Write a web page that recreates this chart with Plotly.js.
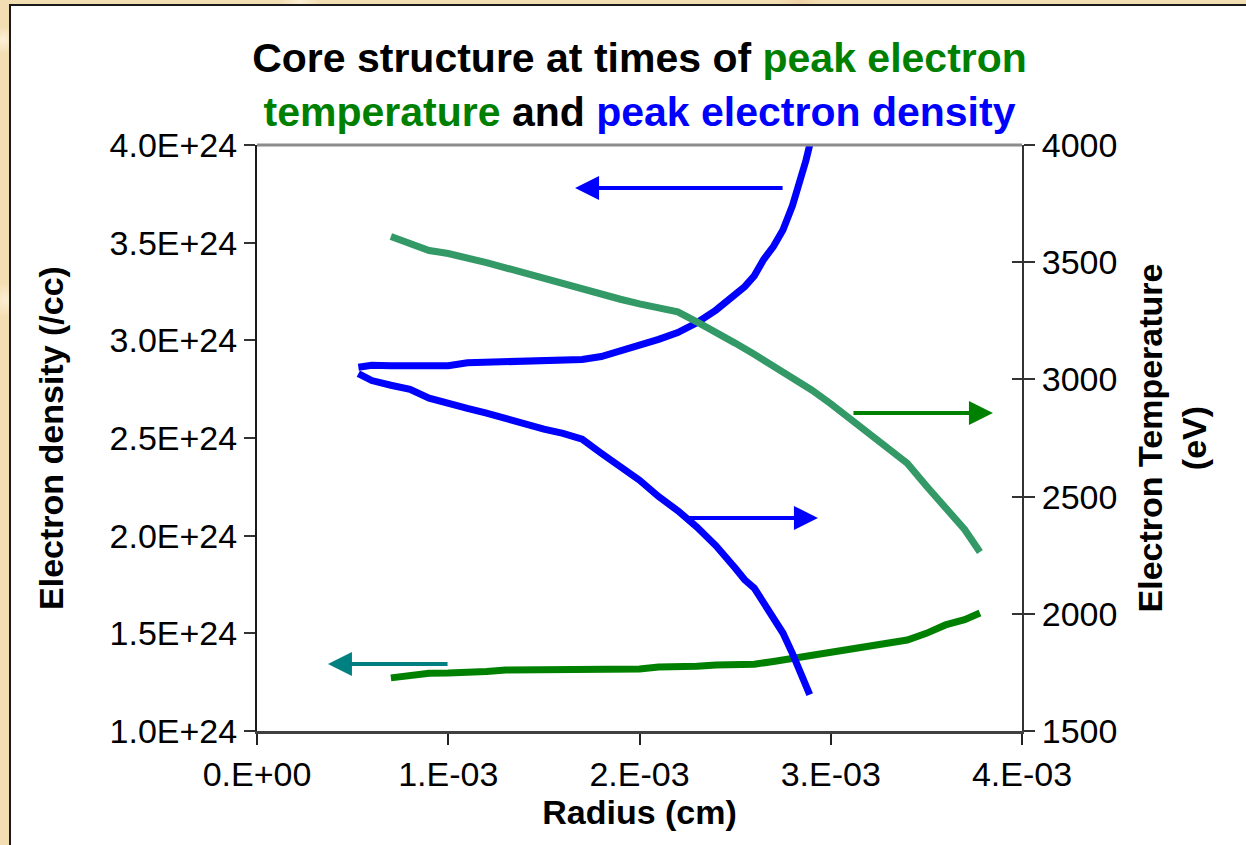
<!DOCTYPE html>
<html>
<head>
<meta charset="utf-8">
<script src="https://cdn.plot.ly/plotly-3.0.1.min.js"></script>
<style>
  html, body { margin: 0; padding: 0; }
  body {
    width: 1246px; height: 845px; overflow: hidden; position: relative;
    background-color: #F3DDB2;
    background-image:
      radial-gradient(circle at 3px 40px, rgba(255,246,225,0.8) 0, rgba(255,246,225,0) 14px),
      radial-gradient(circle at 6px 300px, rgba(255,246,225,0.7) 0, rgba(255,246,225,0) 18px),
      radial-gradient(circle at 300px 2px, rgba(255,246,225,0.7) 0, rgba(255,246,225,0) 20px),
      radial-gradient(circle at 800px 2px, rgba(235,205,160,0.7) 0, rgba(235,205,160,0) 20px);
  }
  #frame {
    position: absolute; left: 9px; top: 4px; width: 1237px; height: 841px;
    border-left: 2px solid #1a1a1a; border-top: 2px solid #1a1a1a;
    background: #ffffff;
  }
</style>
</head>
<body>
<div id="frame"><div id="chart"></div></div>
<script>
// Radius grid (cm) at the time of peak electron temperature
const radiusPeakTe = [0.70e-3, 0.80e-3, 0.90e-3, 1.00e-3, 1.10e-3, 1.20e-3, 1.30e-3, 1.40e-3,
  1.50e-3, 1.60e-3, 1.70e-3, 1.80e-3, 1.90e-3, 2.00e-3, 2.10e-3, 2.20e-3, 2.30e-3, 2.40e-3,
  2.50e-3, 2.60e-3, 2.70e-3, 2.80e-3, 2.90e-3, 3.00e-3, 3.10e-3, 3.20e-3, 3.30e-3, 3.40e-3,
  3.50e-3, 3.60e-3, 3.70e-3, 3.78e-3];
// Electron temperature (eV) at peak-temperature time
const tempPeakTe = [3610, 3580, 3550, 3537, 3520, 3498, 3476, 3453, 3428, 3404, 3382, 3362,
  3342, 3322, 3304, 3288, 3245, 3202, 3155, 3107, 3058, 3008, 2955, 2896, 2833, 2768, 2705,
  2642, 2545, 2450, 2360, 2264];
// Electron density (/cc) at peak-temperature time
const densPeakTe = [1.272e24, 1.285e24, 1.296e24, 1.297e24, 1.297e24, 1.305e24, 1.312e24,
  1.312e24, 1.312e24, 1.312e24, 1.312e24, 1.312e24, 1.312e24, 1.318e24, 1.328e24, 1.328e24,
  1.332e24, 1.338e24, 1.338e24, 1.342e24, 1.356e24, 1.372e24, 1.388e24, 1.402e24, 1.414e24,
  1.428e24, 1.446e24, 1.466e24, 1.500e24, 1.543e24, 1.570e24, 1.604e24];

// Radius grid (cm) at the time of peak electron density
const radiusPeakNe = [0.53e-3, 0.60e-3, 0.70e-3, 0.80e-3, 0.90e-3, 1.00e-3, 1.10e-3, 1.20e-3,
  1.30e-3, 1.40e-3, 1.50e-3, 1.60e-3, 1.70e-3, 1.80e-3, 1.90e-3, 2.00e-3, 2.10e-3, 2.20e-3,
  2.30e-3, 2.40e-3, 2.50e-3, 2.55e-3, 2.60e-3, 2.65e-3, 2.70e-3, 2.75e-3, 2.80e-3, 2.84e-3,
  2.87e-3, 2.89e-3];
// Electron density (/cc) at peak-density time
const densPeakNe = [2.862e24, 2.872e24, 2.870e24, 2.870e24, 2.870e24, 2.870e24, 2.885e24,
  2.888e24, 2.888e24, 2.888e24, 2.889e24, 2.893e24, 2.902e24, 2.917e24, 2.945e24, 2.975e24,
  3.005e24, 3.040e24, 3.090e24, 3.155e24, 3.230e24, 3.275e24, 3.330e24, 3.415e24, 3.480e24,
  3.565e24, 3.690e24, 3.810e24, 3.920e24, 4.000e24];
// Electron temperature (eV) at peak-density time
const tempPeakNe = [3025, 2995, 2975, 2958, 2920, 2895, 2876, 2856, 2832, 2808, 2788, 2770,
  2745, 2685, 2627, 2570, 2500, 2440, 2370, 2290, 2195, 2145, 2110, 2048, 1985, 1918, 1830,
  1745, 1697, 1655];

// Axis ticks
const xTickVals = [0, 1e-3, 2e-3, 3e-3, 4e-3];
const xTickText = ['0.E+00', '1.E-03', '2.E-03', '3.E-03', '4.E-03'];
const yTickVals = [1.0e24, 1.5e24, 2.0e24, 2.5e24, 3.0e24, 3.5e24, 4.0e24];
const yTickText = ['1.0E+24', '1.5E+24', '2.0E+24', '2.5E+24', '3.0E+24', '3.5E+24', '4.0E+24'];
const y2TickVals = [1500, 2000, 2500, 3000, 3500, 4000];

// Arrows pointing each curve to its axis: [tail x, tip x, y (left-axis units), colour]
const axisArrows = [
  [2.756e-3, 1.663e-3, 3.78e24, '#0000FF'],
  [3.111e-3, 3.848e-3, 2.628e24, '#008000'],
  [2.248e-3, 2.933e-3, 2.091e24, '#0000FF'],
  [1.004e-3, 0.371e-3, 1.343e24, '#008080']
];

const FONT = 'Liberation Sans, Arial, sans-serif';
const GREEN = '#008000', SEAGREEN = '#339966', BLUE = '#0000FF';

const traces = [
  { x: radiusPeakTe, y: tempPeakTe, yaxis: 'y2', type: 'scatter', mode: 'lines',
    line: { color: SEAGREEN, width: 7 }, name: 'Te at peak Te' },
  { x: radiusPeakTe, y: densPeakTe, yaxis: 'y', type: 'scatter', mode: 'lines',
    line: { color: GREEN, width: 7 }, name: 'ne at peak Te' },
  { x: radiusPeakNe, y: densPeakNe, yaxis: 'y', type: 'scatter', mode: 'lines',
    line: { color: BLUE, width: 7 }, name: 'ne at peak ne' },
  { x: radiusPeakNe, y: tempPeakNe, yaxis: 'y2', type: 'scatter', mode: 'lines',
    line: { color: BLUE, width: 7 }, name: 'Te at peak ne' },
  // carries the inner half of the right-hand cross ticks
  { x: [], y: [], yaxis: 'y3', type: 'scatter', mode: 'lines', hoverinfo: 'skip', showlegend: false }
];

const annotations = axisArrows.map(a => ({
  x: a[1], y: a[2], xref: 'x', yref: 'y',
  ax: a[0], ay: a[2], axref: 'x', ayref: 'y',
  text: '', showarrow: true, arrowhead: 2, arrowsize: 1.2, arrowwidth: 4,
  arrowcolor: a[3], standoff: 0
}));

const tickFont = { family: FONT, size: 34, color: '#000' };
const axTitleFont = { family: FONT, size: 34, color: '#000', weight: 'bold' };

const layout = {
  width: 1235, height: 839,
  margin: { l: 246, r: 224, t: 139, b: 114, pad: 0 },
  paper_bgcolor: '#ffffff', plot_bgcolor: '#ffffff',
  showlegend: false,
  title: {
    text: '<b>Core structure at times of <span style="color:#008000">peak electron</span><br>' +
          '<span style="color:#008000">temperature</span> and <span style="color:#0000FF">peak electron density</span></b>',
    font: { family: FONT, size: 41, color: '#000' },
    x: 0.5, xref: 'paper', xanchor: 'center',
    y: 0.921, yref: 'container', yanchor: 'top'
  },
  xaxis: {
    range: [0, 4e-3], tickvals: xTickVals, ticktext: xTickText,
    showgrid: false, zeroline: false,
    showline: true, linecolor: '#404040', linewidth: 3,
    ticks: 'outside', ticklen: 11, tickwidth: 2, tickcolor: '#222',
    tickfont: tickFont,
    title: { text: 'Radius (cm)', font: axTitleFont, standoff: 4 }
  },
  yaxis: {
    range: [1e24, 4e24], tickvals: yTickVals, ticktext: yTickText,
    showgrid: false, zeroline: false,
    showline: true, linecolor: '#1a1a1a', linewidth: 2,
    ticks: 'outside', ticklen: 11, tickwidth: 2, tickcolor: '#333',
    tickfont: tickFont,
    title: { text: 'Electron density (/cc)', font: axTitleFont, standoff: 36 }
  },
  yaxis2: {
    range: [1500, 4000], tickvals: y2TickVals,
    overlaying: 'y', side: 'right', anchor: 'x',
    showgrid: false, zeroline: false,
    showline: true, linecolor: '#333', linewidth: 2,
    ticks: 'outside', ticklen: 11, tickwidth: 2, tickcolor: '#333',
    tickfont: tickFont,
    title: { text: 'Electron Temperature<br>(eV)', font: axTitleFont, standoff: 22 }
  },
  yaxis3: {
    range: [1500, 4000], tickvals: y2TickVals,
    overlaying: 'y', side: 'right', anchor: 'x',
    showgrid: false, zeroline: false, showline: false,
    ticks: 'inside', ticklen: 10, tickwidth: 2, tickcolor: '#333',
    showticklabels: false
  },
  shapes: [
    // plot-area frame along the top
    { type: 'line', xref: 'paper', yref: 'paper', x0: 0, x1: 1, y0: 1, y1: 1,
      line: { color: '#8c8c8c', width: 3 } }
  ],
  annotations: annotations
};

Plotly.newPlot('chart', traces, layout, { displayModeBar: false, staticPlot: true });
</script>
</body>
</html>
